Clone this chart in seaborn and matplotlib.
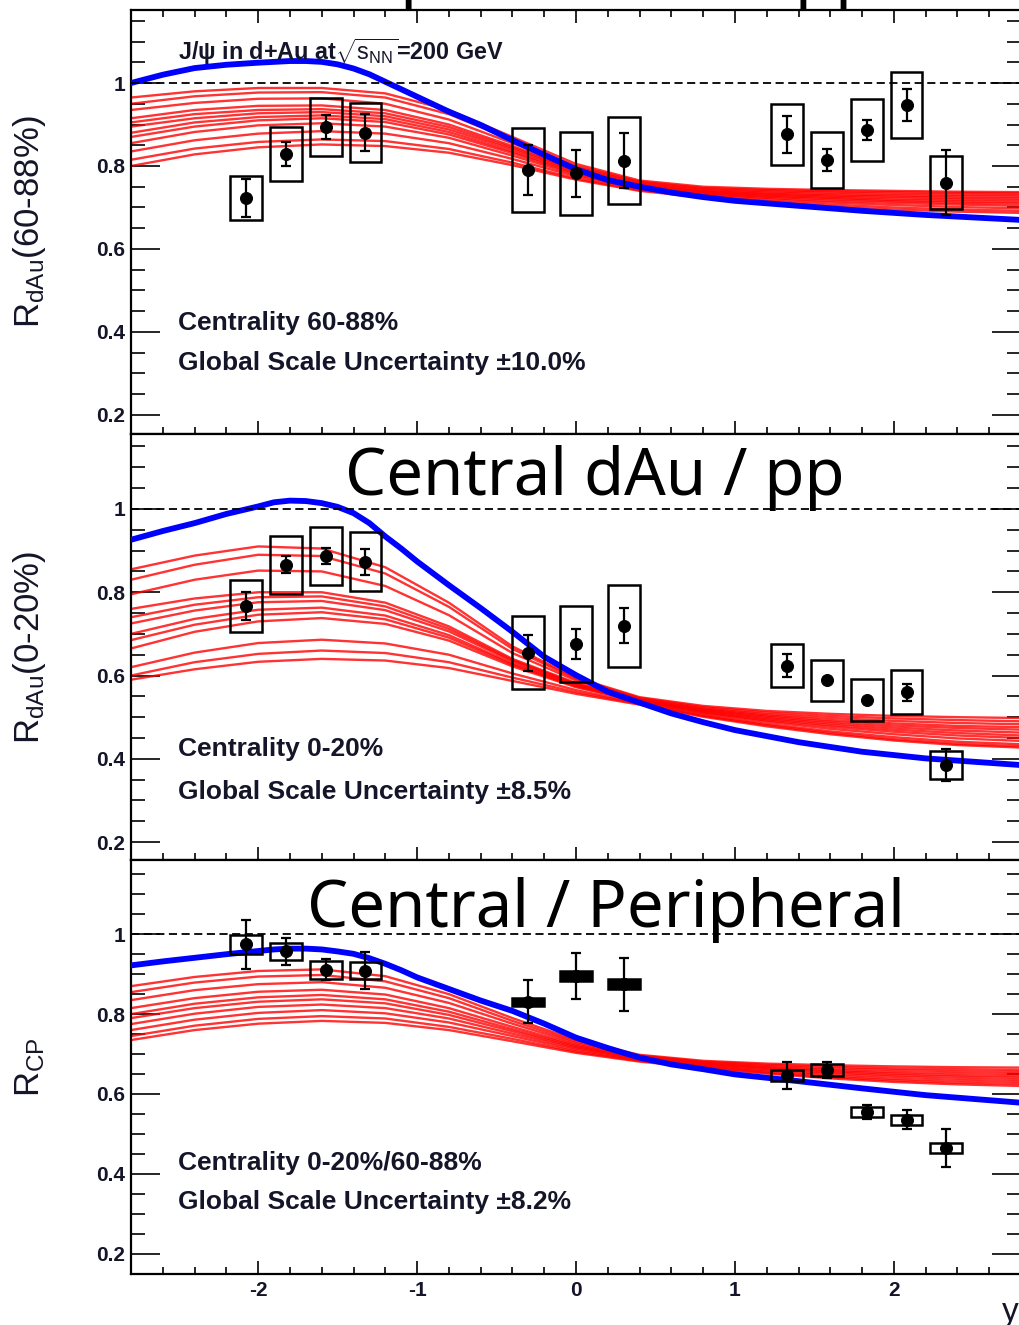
import numpy as np
import pandas as pd
import matplotlib
matplotlib.use('Agg')
import matplotlib.pyplot as plt
from matplotlib.patches import Rectangle
from matplotlib.ticker import MultipleLocator, FuncFormatter
import seaborn as sns

sns.set_style('ticks')
plt.rcParams['font.family'] = ['Liberation Sans', 'DejaVu Sans']
plt.rcParams['mathtext.fontset'] = 'custom'
plt.rcParams['mathtext.rm'] = 'Liberation Sans'
plt.rcParams['mathtext.it'] = 'Liberation Sans:italic'
plt.rcParams['mathtext.bf'] = 'Liberation Sans:bold'
plt.rcParams['axes.unicode_minus'] = False

# ---- data points (rapidity, value, stat error, syst box half height) ----
pt_x = [-2.075, -1.825, -1.575, -1.325, -0.30, 0.0, 0.30, 1.33, 1.58, 1.83, 2.08, 2.33]

peri_y = [0.723, 0.829, 0.894, 0.880, 0.790, 0.782, 0.813, 0.876, 0.814, 0.887, 0.947, 0.760]
peri_stat = [0.046, 0.030, 0.029, 0.045, 0.060, 0.057, 0.067, 0.045, 0.026, 0.025, 0.038, 0.079]
peri_sys = [0.054, 0.066, 0.070, 0.071, 0.102, 0.101, 0.105, 0.074, 0.067, 0.074, 0.080, 0.064]

cent_y = [0.767, 0.866, 0.887, 0.873, 0.655, 0.676, 0.719, 0.624, 0.589, 0.541, 0.560, 0.385]
cent_stat = [0.033, 0.020, 0.020, 0.032, 0.043, 0.036, 0.042, 0.027, 0.004, 0.004, 0.020, 0.039]
cent_sys = [0.062, 0.070, 0.070, 0.071, 0.088, 0.091, 0.098, 0.052, 0.049, 0.050, 0.053, 0.034]

rcp_y = [0.975, 0.957, 0.911, 0.909, 0.831, 0.896, 0.875, 0.647, 0.660, 0.555, 0.535, 0.465]
rcp_stat = [0.061, 0.033, 0.026, 0.047, 0.054, 0.058, 0.066, 0.034, 0.020, 0.018, 0.024, 0.048]
rcp_sys = [0.024, 0.021, 0.022, 0.022, 0.010, 0.013, 0.013, 0.014, 0.015, 0.013, 0.012, 0.012]
rcp_filled = [4, 5, 6]

# ---- blue model curve ----
blue_x = [-2.8, -2.6, -2.4, -2.2, -2.0, -1.9, -1.8, -1.7, -1.6, -1.5, -1.4, -1.3, -1.2, -1.1,
          -1.0, -0.8, -0.6, -0.4, -0.2, 0.0, 0.2, 0.4, 0.6, 0.8, 1.0, 1.4, 1.8, 2.2, 2.8]
blue_peri = [1.000, 1.020, 1.036, 1.044, 1.049, 1.051, 1.053, 1.053, 1.051, 1.045, 1.035, 1.021,
             1.003, 0.985, 0.967, 0.931, 0.899, 0.862, 0.827, 0.792, 0.766, 0.750, 0.736, 0.725,
             0.716, 0.704, 0.692, 0.682, 0.670]
blue_cent = [0.926, 0.947, 0.966, 0.988, 1.006, 1.016, 1.020, 1.019, 1.014, 1.005, 0.990, 0.966,
             0.934, 0.905, 0.874, 0.817, 0.762, 0.705, 0.645, 0.601, 0.561, 0.535, 0.509, 0.488,
             0.469, 0.440, 0.417, 0.401, 0.385]
blue_rcp = [0.922, 0.932, 0.941, 0.950, 0.958, 0.962, 0.964, 0.964, 0.962, 0.957, 0.951, 0.940,
            0.926, 0.910, 0.892, 0.863, 0.834, 0.808, 0.776, 0.741, 0.715, 0.691, 0.674, 0.662,
            0.649, 0.632, 0.614, 0.597, 0.578]

# ---- red model family ----
red_x = [-2.8, -2.4, -2.0, -1.6, -1.2, -0.8, -0.4, 0.0, 0.4, 0.8, 1.2, 1.6, 2.0, 2.4, 2.8]
red_peri = [
    [0.965, 0.980, 0.988, 0.988, 0.975, 0.935, 0.870, 0.805, 0.765, 0.750, 0.745, 0.742, 0.740, 0.738, 0.737],
    [0.950, 0.968, 0.977, 0.978, 0.965, 0.925, 0.862, 0.800, 0.762, 0.747, 0.742, 0.739, 0.737, 0.735, 0.734],
    [0.935, 0.952, 0.962, 0.963, 0.950, 0.912, 0.855, 0.797, 0.760, 0.745, 0.739, 0.736, 0.733, 0.731, 0.730],
    [0.915, 0.935, 0.945, 0.946, 0.935, 0.900, 0.848, 0.793, 0.757, 0.742, 0.736, 0.732, 0.729, 0.727, 0.726],
    [0.905, 0.925, 0.935, 0.937, 0.927, 0.894, 0.844, 0.790, 0.755, 0.740, 0.733, 0.729, 0.726, 0.723, 0.722],
    [0.895, 0.915, 0.927, 0.930, 0.920, 0.888, 0.840, 0.788, 0.753, 0.738, 0.731, 0.726, 0.722, 0.719, 0.718],
    [0.880, 0.905, 0.918, 0.922, 0.913, 0.882, 0.835, 0.785, 0.751, 0.736, 0.728, 0.723, 0.718, 0.715, 0.713],
    [0.870, 0.895, 0.910, 0.915, 0.906, 0.876, 0.831, 0.782, 0.749, 0.734, 0.726, 0.720, 0.715, 0.711, 0.709],
    [0.855, 0.882, 0.898, 0.903, 0.895, 0.868, 0.825, 0.779, 0.747, 0.732, 0.723, 0.716, 0.711, 0.707, 0.704],
    [0.835, 0.862, 0.878, 0.884, 0.878, 0.855, 0.817, 0.775, 0.745, 0.730, 0.720, 0.712, 0.706, 0.701, 0.698],
    [0.815, 0.842, 0.858, 0.864, 0.860, 0.841, 0.808, 0.770, 0.742, 0.727, 0.716, 0.707, 0.700, 0.695, 0.692],
    [0.800, 0.828, 0.845, 0.852, 0.848, 0.832, 0.802, 0.767, 0.740, 0.724, 0.712, 0.702, 0.695, 0.690, 0.687],
]
red_cent = [
    [0.855, 0.888, 0.910, 0.905, 0.860, 0.775, 0.670, 0.595, 0.548, 0.527, 0.515, 0.508, 0.503, 0.500, 0.498],
    [0.830, 0.866, 0.890, 0.887, 0.845, 0.765, 0.664, 0.592, 0.546, 0.524, 0.511, 0.503, 0.497, 0.493, 0.490],
    [0.795, 0.830, 0.852, 0.850, 0.815, 0.745, 0.654, 0.588, 0.544, 0.521, 0.507, 0.498, 0.491, 0.486, 0.483],
    [0.760, 0.785, 0.800, 0.800, 0.775, 0.718, 0.640, 0.582, 0.542, 0.519, 0.504, 0.493, 0.485, 0.479, 0.476],
    [0.740, 0.770, 0.788, 0.790, 0.766, 0.712, 0.637, 0.580, 0.541, 0.517, 0.501, 0.489, 0.480, 0.474, 0.470],
    [0.725, 0.756, 0.776, 0.779, 0.757, 0.706, 0.634, 0.578, 0.540, 0.515, 0.498, 0.485, 0.475, 0.468, 0.463],
    [0.700, 0.736, 0.758, 0.763, 0.744, 0.697, 0.629, 0.576, 0.539, 0.513, 0.495, 0.481, 0.470, 0.462, 0.456],
    [0.685, 0.722, 0.746, 0.752, 0.735, 0.691, 0.626, 0.574, 0.538, 0.511, 0.492, 0.477, 0.465, 0.456, 0.450],
    [0.665, 0.705, 0.730, 0.738, 0.724, 0.684, 0.622, 0.572, 0.537, 0.509, 0.489, 0.472, 0.459, 0.449, 0.443],
    [0.620, 0.655, 0.678, 0.686, 0.677, 0.650, 0.605, 0.565, 0.534, 0.505, 0.484, 0.466, 0.452, 0.441, 0.435],
    [0.600, 0.632, 0.652, 0.660, 0.654, 0.632, 0.595, 0.560, 0.532, 0.503, 0.481, 0.462, 0.447, 0.436, 0.430],
    [0.590, 0.615, 0.633, 0.640, 0.636, 0.618, 0.587, 0.556, 0.530, 0.501, 0.478, 0.459, 0.444, 0.433, 0.427],
]
red_rcp = [
    [0.870, 0.893, 0.908, 0.912, 0.895, 0.850, 0.790, 0.735, 0.698, 0.683, 0.676, 0.672, 0.669, 0.667, 0.666],
    [0.855, 0.879, 0.894, 0.898, 0.882, 0.840, 0.783, 0.731, 0.696, 0.681, 0.673, 0.668, 0.664, 0.662, 0.660],
    [0.835, 0.860, 0.875, 0.880, 0.866, 0.828, 0.776, 0.727, 0.694, 0.679, 0.670, 0.664, 0.660, 0.657, 0.655],
    [0.815, 0.840, 0.856, 0.861, 0.849, 0.815, 0.768, 0.723, 0.692, 0.677, 0.667, 0.660, 0.655, 0.652, 0.650],
    [0.800, 0.826, 0.842, 0.848, 0.837, 0.806, 0.762, 0.720, 0.690, 0.675, 0.665, 0.657, 0.651, 0.647, 0.645],
    [0.790, 0.815, 0.831, 0.837, 0.827, 0.798, 0.757, 0.717, 0.689, 0.673, 0.662, 0.654, 0.647, 0.643, 0.640],
    [0.775, 0.801, 0.818, 0.824, 0.815, 0.789, 0.751, 0.714, 0.687, 0.671, 0.659, 0.650, 0.643, 0.638, 0.635],
    [0.760, 0.786, 0.803, 0.810, 0.802, 0.779, 0.745, 0.710, 0.685, 0.669, 0.656, 0.646, 0.638, 0.633, 0.630],
    [0.745, 0.771, 0.788, 0.795, 0.789, 0.768, 0.738, 0.706, 0.683, 0.667, 0.653, 0.642, 0.634, 0.628, 0.625],
    [0.735, 0.760, 0.776, 0.783, 0.778, 0.760, 0.732, 0.703, 0.681, 0.665, 0.651, 0.639, 0.630, 0.624, 0.620],
]

ylabels = [r'R$_{\rm dAu}$(60-88%)', r'R$_{\rm dAu}$(0-20%)', r'R$_{\rm CP}$']
cent_texts = ['Centrality 60-88%', 'Centrality 0-20%', 'Centrality 0-20%/60-88%']
scale_texts = [u'Global Scale Uncertainty \u00b110.0%', u'Global Scale Uncertainty \u00b18.5%',
               u'Global Scale Uncertainty \u00b18.2%']

panels = [
    (peri_y, peri_stat, peri_sys, blue_peri, red_peri),
    (cent_y, cent_stat, cent_sys, blue_cent, red_cent),
    (rcp_y, rcp_stat, rcp_sys, blue_rcp, red_rcp),
]

W, H = 1019, 1325
fig = plt.figure(figsize=(W / 100, H / 100), dpi=100)
# panel frames in pixels: (top, bottom)
frames = [(10, 434), (434, 860), (860, 1274)]
ylims = [(0.154, 1.176), (0.157, 1.18), (0.149, 1.186)]
left_px, right_px = 131, 1021
txt_col = '#15152a'

axes = []
for i, ((ytop, ybot), (yv, ys, ysy, bl, reds)) in enumerate(zip(frames, panels)):
    ax = fig.add_axes([left_px / W, 1 - ybot / H, (right_px - left_px) / W, (ybot - ytop) / H])
    axes.append(ax)

    df = pd.DataFrame([(j, x, v) for j, c in enumerate(reds) for x, v in zip(red_x, c)],
                      columns=['curve', 'y', 'R'])
    sns.lineplot(data=df, x='y', y='R', units='curve', estimator=None, color='#ff0000',
                 lw=1.7, alpha=0.8, ax=ax, zorder=2)
    sns.lineplot(x=blue_x, y=bl, color='#0000ff', lw=4.2, ax=ax, zorder=3)
    ax.axhline(1.0, color='black', lw=1.3, ls=(0, (4.5, 2.5)), zorder=4)

    for k, (x, v, s) in enumerate(zip(pt_x, yv, ysy)):
        filled = (i == 2 and k in rcp_filled)
        ax.add_patch(Rectangle((x - 0.1, v - s), 0.2, 2 * s, fill=filled, facecolor='black',
                               edgecolor='black', lw=1.8, zorder=5))
    ax.errorbar(pt_x, yv, yerr=ys, fmt='none', ecolor='black', elinewidth=1.6,
                capsize=3.5, capthick=1.6, zorder=6)
    sns.scatterplot(x=pt_x, y=yv, color='black', s=75, edgecolor='black', ax=ax, zorder=7)

    ax.set_xlim(-2.8, 2.8)
    ax.set_ylim(*ylims[i])
    ax.set_xlabel('')
    ax.set_ylabel('')
    ax.xaxis.set_major_locator(MultipleLocator(1))
    ax.xaxis.set_minor_locator(MultipleLocator(0.2))
    ax.yaxis.set_major_locator(MultipleLocator(0.2))
    ax.yaxis.set_minor_locator(MultipleLocator(0.05))
    ax.yaxis.set_major_formatter(FuncFormatter(lambda v, p: f'{v:g}'))
    ax.tick_params(axis='x', which='major', direction='in', length=9.5, width=1.4,
                   top=(i == 0), bottom=True, labelbottom=(i == 2), pad=5)
    ax.tick_params(axis='x', which='minor', direction='in', length=5, width=1.4,
                   top=(i == 0), bottom=True)
    ax.tick_params(axis='y', which='major', direction='in', length=21, width=1.4,
                   left=True, right=True, pad=4)
    ax.tick_params(axis='y', which='minor', direction='in', length=10, width=1.4,
                   left=True, right=True)
    ax.tick_params(labelsize=15, labelcolor=txt_col)
    for lab in ax.get_xticklabels() + ax.get_yticklabels():
        lab.set_fontweight('bold')
    for sp in ax.spines.values():
        sp.set_visible(True)
        sp.set_linewidth(1.6)
        sp.set_color('black')

    ax.text(0.053, {0: 0.262, 1: 0.261, 2: 0.268}[i], cent_texts[i], transform=ax.transAxes,
            fontsize=19, fontweight='bold', color=txt_col, va='center', ha='left')
    ax.text(0.053, {0: 0.167, 1: 0.160, 2: 0.174}[i], scale_texts[i], transform=ax.transAxes,
            fontsize=19, fontweight='bold', color=txt_col, va='center', ha='left')

    yc = 1 - (ytop + ybot) / 2 / H
    fig.text(30 / W, yc, ylabels[i], rotation=90, ha='center', va='center', fontsize=25,
             color=txt_col)

axes[0].text(0.053, 0.901, u'J/\u03c8 in d+Au at' + r'$\sqrt{\mathrm{s}_{\mathrm{NN}}}$=200 GeV',
             transform=axes[0].transAxes, fontsize=16.8, fontweight='bold', color=txt_col,
             va='center', ha='left')

fig.text(1002 / W, 1 - 1321 / H, 'y', fontsize=24, color=txt_col, ha='left', va='baseline')

# slide overlay titles
ov = dict(family=['Noto Sans', 'DejaVu Sans'], fontsize=47, color='black', va='baseline')
fig.text(280 / W, 1 + 5 / H, 'Peripheral dAu / pp', ha='left', **ov)
fig.text(594.5 / W, 1 - 495 / H, 'Central dAu / pp', ha='center', **ov)
fig.text(606 / W, 1 - 927 / H, 'Central / Peripheral', ha='center', **ov)

fig.savefig('out.png', dpi=100)
